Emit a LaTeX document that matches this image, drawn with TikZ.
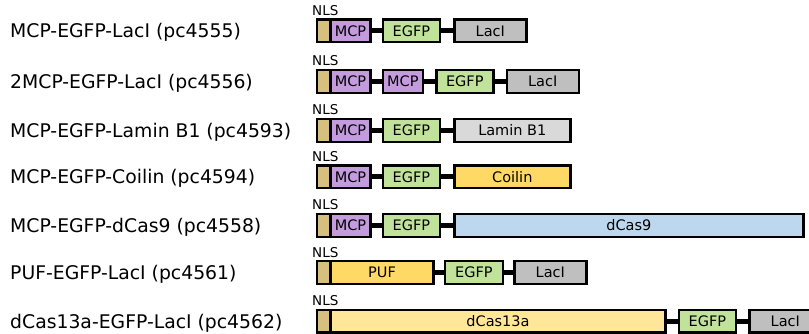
\documentclass[tikz,border=0pt]{standalone}
\usepackage{fontspec}
\setmainfont{DejaVu Sans}
\usetikzlibrary{positioning}
\definecolor{nlsTan}{HTML}{D6BF7F}
\definecolor{mcpPurple}{HTML}{C49CDE}
\definecolor{egfpGreen}{HTML}{C0E29B}
\definecolor{laciGray}{HTML}{BFBFBF}
\definecolor{laminGray}{HTML}{D9D9D9}
\definecolor{coilinYellow}{HTML}{FFD966}
\definecolor{casBlue}{HTML}{BDD7EE}
\definecolor{casYellow}{HTML}{FFE699}

\begin{document}
\begin{tikzpicture}[x=1pt,y=-1pt,
    dom/.style={draw=black, line width=2.4pt, minimum height=22.6pt, inner sep=0pt,
      font=\fontsize{14.5}{14.5}\selectfont},
    nls/.style={dom, fill=nlsTan, minimum width=13.3pt, anchor=west},
    link/.style={line width=5pt},
    construct/.style={anchor=base west, inner sep=0pt, font=\fontsize{18.8}{18.8}\selectfont},
    nlslabel/.style={anchor=base west, inner sep=0pt, font=\fontsize{13.5}{13.5}\selectfont},
    node distance=10pt]
  \useasboundingbox (0,0) rectangle (809,334);
  \def\rowA{31}
  \def\rowB{81.5}
  \def\rowC{130.5}
  \def\rowD{177}
  \def\rowE{225.5}
  \def\rowF{272.5}
  \def\rowG{321}
  % MCP-EGFP-LacI
  \node[construct] (lab1) at (10,\rowA+7) {MCP-EGFP-LacI (pc4555)};
  \node[nls] (nls1) at (316,\rowA) {};
  \node[nlslabel] (nlsl1) at (312,\rowA-15.5) {NLS};
  \node[dom, fill=mcpPurple, minimum width=40pt, right=-2.4pt of nls1] (mcp1) {MCP};
  \node[dom, fill=egfpGreen, minimum width=57pt, right=of mcp1] (egfp1) {EGFP};
  \node[dom, fill=laciGray, minimum width=72pt, right=12pt of egfp1] (laci1) {LacI};
  \draw[link] (mcp1) -- (egfp1);
  \draw[link] (egfp1) -- (laci1);
  % 2MCP-EGFP-LacI
  \node[construct] (lab2) at (10,\rowB+7) {2MCP-EGFP-LacI (pc4556)};
  \node[nls] (nls2) at (316,\rowB) {};
  \node[nlslabel] (nlsl2) at (312,\rowB-15.5) {NLS};
  \node[dom, fill=mcpPurple, minimum width=40pt, right=-2.4pt of nls2] (mcp2a) {MCP};
  \node[dom, fill=mcpPurple, minimum width=40pt, right=of mcp2a] (mcp2b) {MCP};
  \node[dom, fill=egfpGreen, minimum width=57pt, right=11pt of mcp2b] (egfp2) {EGFP};
  \node[dom, fill=laciGray, minimum width=72pt, right=11pt of egfp2] (laci2) {LacI};
  \draw[link] (mcp2a) -- (mcp2b);
  \draw[link] (mcp2b) -- (egfp2);
  \draw[link] (egfp2) -- (laci2);
  % MCP-EGFP-Lamin B1
  \node[construct] (lab3) at (10,\rowC+7) {MCP-EGFP-Lamin B1 (pc4593)};
  \node[nls] (nls3) at (316,\rowC) {};
  \node[nlslabel] (nlsl3) at (312,\rowC-15.5) {NLS};
  \node[dom, fill=mcpPurple, minimum width=40pt, right=-2.4pt of nls3] (mcp3) {MCP};
  \node[dom, fill=egfpGreen, minimum width=57pt, right=of mcp3] (egfp3) {EGFP};
  \node[dom, fill=laminGray, minimum width=116pt, right=12pt of egfp3] (lamin3) {Lamin B1};
  \draw[link] (mcp3) -- (egfp3);
  \draw[link] (egfp3) -- (lamin3);
  % MCP-EGFP-Coilin
  \node[construct] (lab4) at (10,\rowD+7) {MCP-EGFP-Coilin (pc4594)};
  \node[nls] (nls4) at (316,\rowD) {};
  \node[nlslabel] (nlsl4) at (312,\rowD-15.5) {NLS};
  \node[dom, fill=mcpPurple, minimum width=40pt, right=-2.4pt of nls4] (mcp4) {MCP};
  \node[dom, fill=egfpGreen, minimum width=57pt, right=of mcp4] (egfp4) {EGFP};
  \node[dom, fill=coilinYellow, minimum width=116pt, right=12pt of egfp4] (coilin4) {Coilin};
  \draw[link] (mcp4) -- (egfp4);
  \draw[link] (egfp4) -- (coilin4);
  % MCP-EGFP-dCas9
  \node[construct] (lab5) at (10,\rowE+7) {MCP-EGFP-dCas9 (pc4558)};
  \node[nls] (nls5) at (316,\rowE) {};
  \node[nlslabel] (nlsl5) at (312,\rowE-15.5) {NLS};
  \node[dom, fill=mcpPurple, minimum width=40pt, right=-2.4pt of nls5] (mcp5) {MCP};
  \node[dom, fill=egfpGreen, minimum width=57pt, right=of mcp5] (egfp5) {EGFP};
  \node[dom, fill=casBlue, minimum width=349pt, right=12pt of egfp5] (cas5) {dCas9};
  \draw[link] (mcp5) -- (egfp5);
  \draw[link] (egfp5) -- (cas5);
  % PUF-EGFP-LacI
  \node[construct] (lab6) at (10,\rowF+7) {PUF-EGFP-LacI (pc4561)};
  \node[nls] (nls6) at (316,\rowF) {};
  \node[nlslabel] (nlsl6) at (312,\rowF-15.5) {NLS};
  \node[dom, fill=coilinYellow, minimum width=103pt, right=-2.4pt of nls6] (puf6) {PUF};
  \node[dom, fill=egfpGreen, minimum width=58pt, right=9pt of puf6] (egfp6) {EGFP};
  \node[dom, fill=laciGray, minimum width=72pt, right=9pt of egfp6] (laci6) {LacI};
  \draw[link] (puf6) -- (egfp6);
  \draw[link] (egfp6) -- (laci6);
  % dCas13a-EGFP-LacI
  \node[construct] (lab7) at (10,\rowG+7) {dCas13a-EGFP-LacI (pc4562)};
  \node[nls] (nls7) at (316,\rowG) {};
  \node[nlslabel] (nlsl7) at (312,\rowG-15.5) {NLS};
  \node[dom, fill=casYellow, minimum width=335pt, right=-2.4pt of nls7] (cas7) {dCas13a};
  \node[dom, fill=egfpGreen, minimum width=57pt, right=11pt of cas7] (egfp7) {EGFP};
  \node[dom, fill=laciGray, minimum width=72pt, right=11pt of egfp7] (laci7) {LacI};
  \draw[link] (cas7) -- (egfp7);
  \draw[link] (egfp7) -- (laci7);
\end{tikzpicture}
\end{document}
